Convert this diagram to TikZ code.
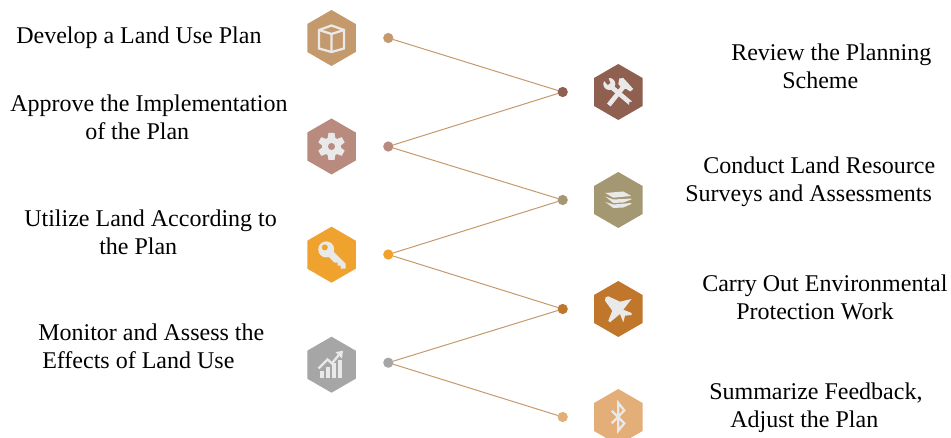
\documentclass[tikz,border=0pt]{standalone}
\usepackage{fontspec}
\setmainfont{Liberation Serif}
\usetikzlibrary{shapes.geometric}
\definecolor{tanC}{HTML}{C49A6C}
\definecolor{roseC}{HTML}{B98B7E}
\definecolor{amberC}{HTML}{F0A22E}
\definecolor{greyC}{HTML}{A6A6A6}
\definecolor{brickC}{HTML}{8F5F50}
\definecolor{khakiC}{HTML}{A49873}
\definecolor{rustC}{HTML}{C0762B}
\definecolor{sandC}{HTML}{E3AE78}
\definecolor{iconC}{HTML}{E9E9E9}
\tikzstyle{hexV}=[regular polygon, regular polygon sides=6, shape border rotate=30, minimum size=42pt, inner sep=0pt, outer sep=0pt]
\tikzstyle{dotV}=[circle, minimum size=7.7pt, inner sep=0pt, outer sep=0pt]
\tikzstyle{edge}=[line width=0.75pt, tanC]
\tikzstyle{stepT}=[align=left, anchor=west, inner sep=0pt, font=\fontsize{18pt}{21pt}\selectfont]
\tikzstyle{iconL}=[draw=iconC, line width=1.7pt, fill=none, line join=miter]
\tikzstyle{iconF}=[fill=iconC, draw=none]

\begin{document}
\begin{tikzpicture}[x=0.75pt, y=-0.75pt]
    \useasboundingbox (0,0) rectangle (951,438);
    \clip (0,0) rectangle (951,438);

    %%%%%  Dots and edges  %%%%%
    \node (L0) [dotV, fill=tanC]    at (388.3,38){};
    \node (L1) [dotV, fill=roseC]   at (388.3,146.5){};
    \node (L2) [dotV, fill=amberC]  at (388.3,254.5){};
    \node (L3) [dotV, fill=greyC]   at (388.3,362.7){};
    \node (R0) [dotV, fill=brickC]  at (562.7,92){};
    \node (R1) [dotV, fill=khakiC]  at (562.7,200){};
    \node (R2) [dotV, fill=rustC]   at (562.7,309){};
    \node (R3) [dotV, fill=sandC]   at (562.7,417){};

    \draw [edge] (L0) to (R0);
    \draw [edge] (L1) to (R0);
    \draw [edge] (L1) to (R1);
    \draw [edge] (L2) to (R1);
    \draw [edge] (L2) to (R2);
    \draw [edge] (L3) to (R2);
    \draw [edge] (L3) to (R3);

    %%%%%  Hexagons  %%%%%
    \node (H0) [hexV, fill=tanC]    at (331.5,38){};
    \node (H1) [hexV, fill=roseC]   at (331.5,146.5){};
    \node (H2) [hexV, fill=amberC]  at (331.5,254.7){};
    \node (H3) [hexV, fill=greyC]   at (331.5,364.7){};
    \node (H4) [hexV, fill=brickC]  at (618.3,92){};
    \node (H5) [hexV, fill=khakiC]  at (618.3,200){};
    \node (H6) [hexV, fill=rustC]   at (618.3,309){};
    \node (H7) [hexV, fill=sandC]   at (618.3,417){};

    %%%%%  Box  %%%%%
    \begin{scope}[shift={(331.5,38)}]
      \draw [iconL] (0,-12.5) -- (12.5,-8) -- (12.5,10.5) -- (0,14) -- (-12.5,10.5) -- (-12.5,-8) -- cycle;
      \draw [iconL] (-12.5,-8) -- (0,-4) -- (12.5,-8) (0,-4) -- (0,14);
    \end{scope}

    %%%%%  Gear  %%%%%
    \begin{scope}[shift={(331.5,146.5)}]
      \foreach \a in {0,60,120,180,240,300}
        \fill [iconF, rotate=\a] (-3,-13.5) -- (3,-13.5) -- (4,-7) -- (-4,-7) -- cycle;
      \fill [iconF] (0,0) circle (9.5);
      \fill [roseC] (0,0) circle (3.5);
    \end{scope}

    %%%%%  Key  %%%%%
    \begin{scope}[shift={(331.5,254.7)}]
      \fill [iconF] (-5.3,-5.3) circle (8);
      \fill [iconF] (2,-3) -- (14,9) -- (14,14) -- (9,14) -- (9,11) -- (6,11) -- (6,8) -- (3,8) -- (-3,2) -- cycle;
      \fill [amberC] (-6.7,-7.3) circle (3);
    \end{scope}

    %%%%%  Chart  %%%%%
    \begin{scope}[shift={(331.5,364.7)}]
      \fill [iconF] (-11.3,6.3) rectangle (-7.3,13);
      \fill [iconF] (-5.3,2) rectangle (-1.3,13);
      \fill [iconF] (0.7,-1.3) rectangle (4.7,13);
      \fill [iconF] (6.7,-4.7) rectangle (10.7,13);
      \draw [iconL] (-13,3.7) -- (-4,-5.3) -- (0.3,-1.3) -- (8.7,-11.3);
      \fill [iconF] (11.5,-14) -- (4,-12.5) -- (10.5,-6) -- cycle;
    \end{scope}

    %%%%%  Tools  %%%%%
    \begin{scope}[shift={(618.3,92)}]
      \draw [iconF, draw=iconC, line width=3.5pt] (-8,-6) -- (12,11);
      \fill [iconF] (-9,-8) circle (6);
      \fill [brickC] (-15,-12) -- (-10,-14.5) -- (-8,-9) -- (-10.5,-7) -- cycle;
      \fill [brickC] (12,11) circle (1.4);
      \draw [iconF, draw=iconC, line width=3.5pt] (-9.5,13) -- (5,-5);
      \fill [iconF] (1,-13.5) -- (5,-14) -- (15,-3) -- (12,-0.5) -- (8,-3) -- (4,-3) -- (0,-8) -- cycle;
    \end{scope}

    %%%%%  Layers  %%%%%
    \begin{scope}[shift={(618.3,200)}]
      \fill [iconF] (-13,-7) -- (5,-8.5) -- (13,-4) -- (-5,-2.3) -- cycle;
      \fill [iconF] (-13,-3.5) -- (-5,-0.5) -- (13,-1.5) -- (13,-0.5) -- (5,2.5) -- (-5,3) -- cycle;
      \fill [iconF] (-13,2) -- (-5,4.5) -- (13,3) -- (13,4) -- (5,7.5) -- (-5,8) -- cycle;
    \end{scope}

    %%%%%  Plane  %%%%%
    \begin{scope}[shift={(618.3,309)}]
      \fill [iconF] (-12.7,-11.7) -- (-10,-12.7) -- (1.7,-7.3) -- (13.3,-10) -- (5,0.7) -- (13.3,4) -- (13.3,6) -- (6.7,6.7) -- (5,13.3) -- (1.7,5) -- (-8.3,13.3) -- (-10,11.7) -- (-6,1.7) -- (-13.3,-8.3) -- cycle;
    \end{scope}

    %%%%%  Bluetooth  %%%%%
    \begin{scope}[shift={(618.3,417)}]
      \draw [iconL] (-6.5,-6.3) -- (6,6.3) -- (0,13.7) -- (0,-14) -- (6,-6.5) -- (-6.5,6.3);
    \end{scope}

    %%%%%  Labels  %%%%%
    \node (T0) [stepT] at (16,38) {Develop a Land Use Plan};
    \node (T1) [stepT] at (10,117) {Approve the Implementation\\\hspace*{56.25pt}of the Plan};
    \node (T2) [stepT] at (24,232) {Utilize Land According to\\\hspace*{56.25pt}the Plan};
    \node (T3) [stepT] at (38,346.5) {Monitor and Assess the\\\hspace*{3pt}Effects of Land Use};
    \node (T4) [stepT] at (731,66.5) {Review the Planning\\\hspace*{38.25pt}Scheme};
    \node (T5) [stepT] at (685,182) {\hspace*{13.5pt}Conduct Land Resource\\Surveys and Assessments};
    \node (T6) [stepT] at (702,297.5) {Carry Out Environmental\\\hspace*{25.5pt}Protection Work};
    \node (T7) [stepT] at (709,408) {Summarize Feedback,\\\hspace*{15.75pt}Adjust the Plan};
\end{tikzpicture}
\end{document}
